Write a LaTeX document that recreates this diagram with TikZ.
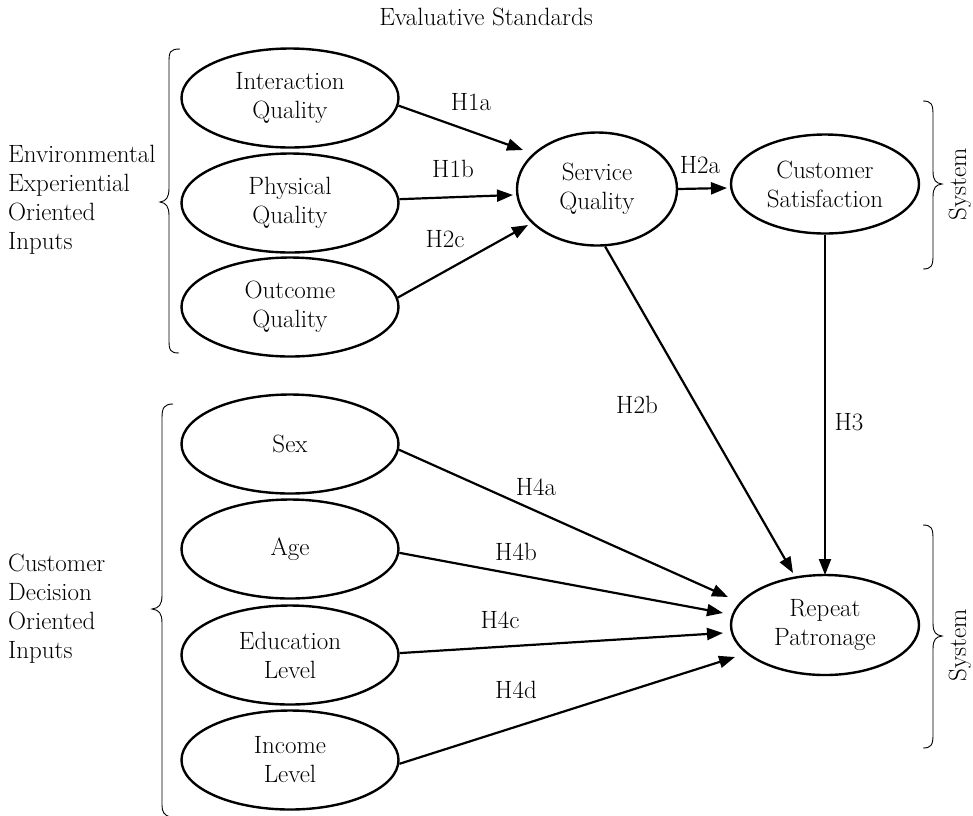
\documentclass[tikz,border=0pt]{standalone}
\usetikzlibrary{shapes.geometric,arrows.meta}
\begin{document}
\begin{tikzpicture}[x=1pt,y=-1pt,
  every node/.style={font=\fontsize{25}{29}\selectfont},
  ell/.style={ellipse,draw,line width=2.4pt,inner sep=0pt,align=center,minimum width=217pt,minimum height=99pt},
  arr/.style={line width=2.2pt,-{Triangle[length=16pt,width=12pt]}},
  lbl/.style={inner sep=0pt},
  bracepath/.style={line width=0.9pt}]
\useasboundingbox (0,0) rectangle (973,815);

% title
\node[lbl] (title) at (486,17) {Evaluative Standards};

% left nodes
\node[ell] (int) at (290,98) {Interaction\\Quality};
\node[ell] (phy) at (290,203) {Physical\\Quality};
\node[ell] (out) at (290,307) {Outcome\\Quality};
\node[ell] (sex) at (290,444) {Sex};
\node[ell] (age) at (290,549) {Age};
\node[ell] (edu) at (290,655) {Education\\Level};
\node[ell] (inc) at (290,760) {Income\\Level};

% central / right nodes
\node[ell,minimum width=160pt,minimum height=113pt] (sq) at (597,189) {Service\\Quality};
\node[ell,minimum width=188pt,minimum height=99pt] (cs) at (825,184) {Customer\\Satisfaction};
\node[ell,minimum width=188pt,minimum height=100pt] (rp) at (825,625) {Repeat\\Patronage};

% arrow tip coordinates
\coordinate (t1a) at (523,150);
\coordinate (t1b) at (513,195);
\coordinate (t2c) at (528,225);
\coordinate (t2a) at (727,188);
\coordinate (t2b) at (793,573);
\coordinate (t3) at (825,575);
\coordinate (t4a) at (728,597);
\coordinate (t4b) at (723,613);
\coordinate (t4c) at (723,633);
\coordinate (t4d) at (735,657);

% connectors
\draw[arr] (int.-4) -- (t1a);
\draw[arr] (phy.2) -- (t1b);
\draw[arr] (out.5) -- (t2c);
\draw[arr] (sq.east) -- (t2a);
\draw[arr] (sq.-82) -- (t2b);
\draw[arr] (cs.south) -- (t3);
\draw[arr] (sex.-3) -- (t4a);
\draw[arr] (age.-2) -- (t4b);
\draw[arr] (edu.1) -- (t4c);
\draw[arr] (inc.-2) -- (t4d);

% connector labels
\node[lbl] (l1a) at (471,102) {H1a};
\node[lbl] (l1b) at (453,169) {H1b};
\node[lbl] (l2c) at (445,239) {H2c};
\node[lbl] (l2a) at (700,165) {H2a};
\node[lbl] (l2b) at (637,405) {H2b};
\node[lbl] (l3) at (849,422) {H3};
\node[lbl] (l4a) at (536,487) {H4a};
\node[lbl] (l4b) at (516,552) {H4b};
\node[lbl] (l4c) at (500,620) {H4c};
\node[lbl] (l4d) at (516,690) {H4d};

% left group texts
\node[lbl,align=left,anchor=west] (envtxt) at (8,200) {Environmental\\Experiential\\Oriented\\Inputs};
\node[lbl,align=left,anchor=west] (custxt) at (8,609) {Customer\\Decision\\Oriented\\Inputs};

% System labels
\node[lbl,rotate=90] (sys1) at (960,184) {System};
\node[lbl,rotate=90] (sys2) at (960,645) {System};

% braces (left-pointing)
\draw[bracepath] (180,49) .. controls (170,49) and (169,52) .. (169,62)
  -- (169,188) .. controls (169,198) and (166,201) .. (160,202)
  .. controls (166,203) and (169,206) .. (169,216)
  -- (169,340) .. controls (169,350) and (170,353) .. (179,353);
\draw[bracepath] (173,404) .. controls (164,404) and (162,408) .. (162,418)
  -- (162,595) .. controls (162,605) and (159,608) .. (152,609)
  .. controls (159,610) and (162,613) .. (162,623)
  -- (162,805) .. controls (162,812) and (164,815) .. (170,817);
% braces (right-pointing)
\draw[bracepath] (923,101) .. controls (931,101) and (933,104) .. (933,114)
  -- (933,171) .. controls (933,181) and (936,183) .. (942,184)
  .. controls (936,185) and (933,187) .. (933,197)
  -- (933,256) .. controls (933,266) and (931,269) .. (923,269);
\draw[bracepath] (923,525) .. controls (931,525) and (933,528) .. (933,538)
  -- (933,623) .. controls (933,633) and (936,635) .. (942,636)
  .. controls (936,637) and (933,639) .. (933,649)
  -- (933,735) .. controls (933,745) and (931,748) .. (923,748);
\end{tikzpicture}
\end{document}
